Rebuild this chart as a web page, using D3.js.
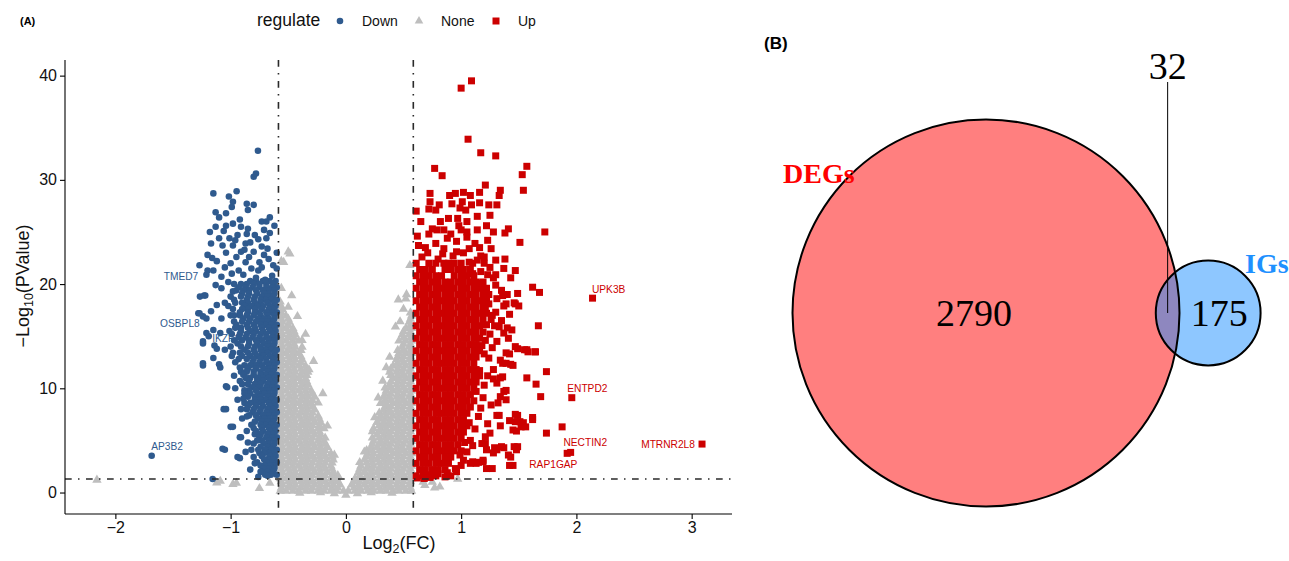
<!DOCTYPE html>
<html>
<head>
<meta charset="utf-8">
<script src="https://cdn.jsdelivr.net/npm/d3@7"></script>
<style>
  body { margin: 0; background: #fff; }
  svg { display: block; font-family: "Liberation Sans", Arial, sans-serif; }
</style>
</head>
<body>
<svg id="fig" width="1289" height="561"></svg>
<script>
// ---- panel A: volcano plot (log2 FC vs -log10 p) ----
const xTicks = [-2, -1, 0, 1, 2, 3]
const yTicks = [0, 10, 20, 30, 40]
const fcCut = 0.585 // log2(1.5)
const pCut = 1.301 // -log10(0.05)
const regulateLevels = ['Down', 'None', 'Up']

// dense parts of each cloud, one row per -log10(p) level: [y, x, x, ...]
const noneRows = [
  [0.15, -.57,-.52,-.46,-.41,-.35,-.30,-.24,-.19,-.13,-.08,-.02,.02,.08,.13,.19,.24,.30,.35,.41,.46,.52,.57],
  [0.45, -.56,-.50,-.45,-.39,-.34,-.29,-.23,-.18,-.12,-.07,.07,.12,.18,.23,.29,.34,.39,.45,.50,.56],
  [0.75, -.55,-.49,-.44,-.38,-.33,-.27,-.22,-.16,-.11,-.05,.05,.11,.16,.22,.27,.33,.38,.44,.49,.55],
  [1.05, -.56,-.50,-.45,-.39,-.34,-.29,-.23,-.18,-.12,-.07,.07,.12,.18,.23,.29,.34,.39,.45,.50,.56],
  [1.35, -.57,-.52,-.46,-.41,-.35,-.30,-.24,-.19,-.13,-.08,.08,.13,.19,.24,.30,.35,.41,.46,.52,.57],
  [1.65, -.56,-.50,-.45,-.39,-.34,-.29,-.23,-.18,-.12,-.07,.12,.18,.23,.29,.34,.39,.45,.50,.56],
  [1.95, -.55,-.49,-.44,-.38,-.33,-.27,-.22,-.16,-.11,.11,.16,.22,.27,.33,.38,.44,.49,.55],
  [2.25, -.56,-.50,-.45,-.39,-.34,-.29,-.23,-.18,-.12,.12,.18,.23,.29,.34,.39,.45,.50,.56],
  [2.55, -.57,-.52,-.46,-.41,-.35,-.30,-.24,-.19,-.13,.13,.19,.24,.30,.35,.41,.46,.52,.57],
  [2.85, -.56,-.50,-.45,-.39,-.34,-.29,-.23,-.18,-.12,.18,.23,.29,.34,.39,.45,.50,.56],
  [3.15, -.55,-.49,-.44,-.38,-.33,-.27,-.22,-.16,-.11,.16,.22,.27,.33,.38,.44,.49,.55],
  [3.45, -.56,-.50,-.45,-.39,-.34,-.29,-.23,-.18,-.12,.18,.23,.29,.34,.39,.45,.50,.56],
  [3.75, -.57,-.52,-.46,-.41,-.35,-.30,-.24,-.19,-.13,.19,.24,.30,.35,.41,.46,.52,.57],
  [4.05, -.56,-.50,-.45,-.39,-.34,-.29,-.23,-.18,.18,.23,.29,.34,.39,.45,.50,.56],
  [4.35, -.55,-.49,-.44,-.38,-.33,-.27,-.22,-.16,.22,.27,.33,.38,.44,.49,.55],
  [4.65, -.56,-.50,-.45,-.39,-.34,-.29,-.23,-.18,.23,.29,.34,.39,.45,.50,.56],
  [4.95, -.57,-.52,-.46,-.41,-.35,-.30,-.24,-.19,.24,.30,.35,.41,.46,.52,.57],
  [5.25, -.56,-.50,-.45,-.39,-.34,-.29,-.23,-.18,.23,.29,.34,.39,.45,.50,.56],
  [5.55, -.55,-.49,-.44,-.38,-.33,-.27,-.22,.27,.33,.38,.44,.49,.55],
  [5.85, -.56,-.50,-.45,-.39,-.34,-.29,-.23,.23,.29,.34,.39,.45,.50,.56],
  [6.15, -.57,-.52,-.46,-.41,-.35,-.30,-.24,-.19,.24,.30,.35,.41,.46,.52,.57],
  [6.45, -.56,-.50,-.45,-.39,-.34,-.29,-.23,.29,.34,.39,.45,.50,.56],
  [6.75, -.55,-.49,-.44,-.38,-.33,-.27,-.22,.27,.33,.38,.44,.49,.55],
  [7.05, -.56,-.50,-.45,-.39,-.34,-.29,-.23,.29,.34,.39,.45,.50,.56],
  [7.35, -.57,-.52,-.46,-.41,-.35,-.30,-.24,.30,.35,.41,.46,.52,.57],
  [7.65, -.56,-.50,-.45,-.39,-.34,-.29,.29,.34,.39,.45,.50,.56],
  [7.95, -.55,-.49,-.44,-.38,-.33,-.27,.33,.38,.44,.49,.55],
  [8.25, -.56,-.50,-.45,-.39,-.34,-.29,.34,.39,.45,.50,.56],
  [8.55, -.57,-.52,-.46,-.41,-.35,-.30,.30,.35,.41,.46,.52,.57],
  [8.85, -.56,-.50,-.45,-.39,-.34,-.29,.34,.39,.45,.50,.56],
  [9.15, -.55,-.49,-.44,-.38,-.33,-.27,.33,.38,.44,.49,.55],
  [9.45, -.56,-.50,-.45,-.39,-.34,-.29,.34,.39,.45,.50,.56],
  [9.75, -.57,-.52,-.46,-.41,-.35,-.30,.35,.41,.46,.52,.57],
  [10.05, -.56,-.50,-.45,-.39,-.34,.34,.39,.45,.50,.56],
  [10.35, -.55,-.49,-.44,-.38,-.33,.38,.44,.49,.55],
  [10.65, -.56,-.50,-.45,-.39,-.34,.39,.45,.50,.56],
  [10.95, -.57,-.52,-.46,-.41,-.35,.41,.46,.52,.57],
  [11.25, -.56,-.50,-.45,-.39,-.34,.39,.45,.50,.56],
  [11.55, -.55,-.49,-.44,-.38,-.33,.38,.44,.49,.55],
  [11.85, -.56,-.50,-.45,-.39,-.34,.39,.45,.50,.56],
  [12.15, -.57,-.52,-.46,-.41,-.35,.41,.46,.52,.57],
  [12.45, -.56,-.50,-.45,-.39,.45,.50,.56],
  [12.75, -.55,-.49,-.44,-.38,.44,.49,.55],
  [13.05, -.56,-.50,-.45,-.39,.45,.50,.56],
  [13.35, -.57,-.52,-.46,-.41,.46,.52,.57],
  [13.65, -.56,-.50,-.45,-.39,.45,.50,.56],
  [13.95, -.55,-.49,-.44,-.38,.49,.55],
  [14.25, -.56,-.50,-.45,.50,.56],
  [14.55, -.57,-.52,-.46,-.41,.46,.52,.57],
  [14.85, -.56,-.50,-.45,.50,.56],
  [15.15, -.55,-.49,-.44,.49,.55],
  [15.45, -.56,-.50,-.45,.50,.56],
  [15.75, -.57,-.52,-.46,.52,.57],
  [16.05, -.56,-.50,.56],
  [16.35, -.55,-.49,.55],
  [16.65, -.56,-.50,.56],
  [16.95, -.57,-.52,.57],
  [17.25, -.56,.56],
  [17.55, -.55],
  [17.85, -.56],
  [18.3, -.57]
]
const noneExtra = [
  [-0.486,22.9],[-0.54,22.1],[-0.50,23.1],[-0.56,22.2],[-0.47,18.9],[-0.56,19.6],[-0.50,17.8],[-0.42,16.9],
  [-0.35,15.2],[-0.28,12.6],[-0.20,9.5],[-0.16,6.4],[-0.10,3.6],[-0.38,14.6],[-0.32,11.8],[-0.24,8.6],
  [0.526,19.0],[0.455,18.5],[0.43,15.9],[0.32,10.7],[0.28,9.1],[0.38,13.0],[0.50,17.6],[0.555,21.8],
  [0.52,18.6],[0.25,7.2],[0.16,3.9],[0.12,2.9],[0.35,12.0],[0.47,16.4],
  [-2.16,1.2],[-1.09,1.1],[-0.98,0.8],[-0.95,0.9],[-1.12,0.94],[-0.66,0.9],[-0.75,0.4],
  [0.685,0.7],[0.77,0.45],[0.815,0.55],[0.97,1.3],[0.67,1.0],[0.75,1.0],
  [-0.1,-0.1],[0,-0.25],[0.1,-0.1],[-0.22,0.0],[0.22,0.0],[-0.4,-0.05],[0.4,-0.05]
]

const downRows = [
  [20.3, -.61,-.66,-.72,-.78,-.83],
  [20.0, -.63,-.69,-.75,-.80,-.86,-.91,-.97],
  [19.7, -.60,-.64,-.69,-.75,-.81,-.87,-.93],
  [19.4, -.62,-.67,-.72,-.78,-.84,-.89,-.95],
  [19.1, -.62,-.67,-.71,-.77,-.84,-.90],
  [18.8, -.63,-.68,-.73,-.79,-.85,-.91,-1.0],
  [18.5, -.60,-.65,-.70,-.74,-.80,-.86,-.97],
  [18.2, -.62,-.68,-.74,-.79,-.85,-.90,-.96],
  [17.9, -.61,-.66,-.72,-.77,-.82,-.88,-1.02],
  [17.6, -.63,-.67,-.73,-.79,-.85,-.90,-.98],
  [17.3, -.60,-.64,-.69,-.75,-.79,-.85,-.92],
  [17.0, -.62,-.68,-.74,-.80,-.86,-.92,-1.0],
  [16.7, -.62,-.67,-.71,-.76,-.83,-.89,-1.08],
  [16.4, -.63,-.68,-.73,-.78,-.84,-.90,-.97],
  [16.1, -.60,-.65,-.70,-.74,-.80,-.86,-.95],
  [15.8, -.62,-.67,-.73,-.79,-.85,-.91,-.96],
  [15.5, -.61,-.66,-.72,-.78,-.83,-.91,-1.01],
  [15.2, -.63,-.69,-.74,-.80,-.86,-.92,-.99],
  [14.9, -.60,-.64,-.69,-.75,-.81,-.87],
  [14.6, -.62,-.67,-.73,-.78,-.84,-.90,-.97],
  [14.3, -.62,-.67,-.71,-.77,-.84,-.94],
  [14.0, -.63,-.68,-.74,-.79,-.85,-.91],
  [13.7, -.60,-.65,-.70,-.74,-.80,-.88,-1.05],
  [13.4, -.62,-.68,-.73,-.79,-.85,-.92,-.98],
  [13.1, -.61,-.66,-.72,-.77,-.83,-.90],
  [12.8, -.63,-.69,-.74,-.80,-.86,-.93],
  [12.5, -.60,-.64,-.69,-.75,-.81,-.96],
  [12.2, -.62,-.67,-.73,-.78,-.83,-.88],
  [11.9, -.62,-.67,-.71,-.78,-.85],
  [11.6, -.63,-.68,-.74,-.80,-.86,-.91],
  [11.3, -.60,-.65,-.70,-.74,-.80,-.89],
  [11.0, -.62,-.67,-.72,-.77,-.83,-.87],
  [10.7, -.61,-.66,-.72,-.77,-.84,-.92],
  [10.4, -.63,-.68,-.74,-.79,-.85,-.90],
  [10.1, -.60,-.64,-.69,-.75,-.81],
  [9.8, -.62,-.67,-.72,-.78,-.84,-.88],
  [9.5, -.62,-.67,-.71,-.76,-.83,-.88],
  [9.2, -.63,-.68,-.74,-.79,-.85],
  [8.9, -.60,-.65,-.70,-.74,-.79,-.94],
  [8.6, -.62,-.67,-.73,-.78,-.83,-.88],
  [8.3, -.61,-.66,-.72,-.78,-.85],
  [8.0, -.63,-.68,-.74,-.80,-.86],
  [7.7, -.60,-.64,-.69,-.75,-.81],
  [7.4, -.62,-.67,-.72,-.78,-.84],
  [7.1, -.62,-.67,-.71,-.76,-.90],
  [6.8, -.63,-.68,-.73,-.79],
  [6.5, -.60,-.65,-.70,-.74,-.82],
  [6.2, -.62,-.67,-.73,-.80],
  [5.9, -.61,-.66,-.72,-.78,-.86],
  [5.6, -.63,-.68,-.74,-.79],
  [5.3, -.60,-.64,-.69,-.75],
  [5.0, -.62,-.67,-.73,-.77],
  [4.7, -.62,-.67,-.71,-.80],
  [4.4, -.63,-.68,-.74],
  [4.1, -.60,-.65,-.70,-.76],
  [3.8, -.62,-.67,-.71,-.75],
  [3.5, -.61,-.66,-.73],
  [3.2, -.63,-.68,-.71],
  [2.9, -.60,-.64,-.69,-.77],
  [2.6, -.62,-.66,-.71,-.74],
  [2.3, -.62,-.67,-.72],
  [2.0, -.63,-.68,-.73],
  [1.7, -.60,-.65,-.70]
]
const downExtra = [
  [-0.763,32.8],[-0.80,30.3],[-0.78,30.6],
  [-1.15,28.7],[-0.948,28.9],[-1.015,28.4],[-0.98,27.9],[-0.99,27.4],[-0.86,27.7],[-0.80,27.6],[-0.85,27.1],
  [-1.13,26.9],[-1.10,26.4],[-1.04,26.8],[-0.66,26.4],[-0.73,26.0],[-0.69,26.0],
  [-1.18,25.0],[-1.13,25.5],[-1.04,25.6],[-0.98,25.8],[-0.91,25.5],[-0.85,25.3],[-0.86,24.8],[-0.79,24.7],
  [-0.69,24.4],[-1.10,24.4],[-1.01,24.4],[-0.94,24.7],
  [-1.17,23.9],[-1.07,23.7],[-0.98,23.7],[-0.87,23.9],[-0.73,23.6],[-0.68,23.4],[-1.20,22.8],[-1.16,22.5],
  [-1.04,23.0],[-0.91,23.1],[-0.80,23.1],[-0.71,22.8],
  [-1.27,21.8],[-1.15,21.3],[-1.08,20.7],[-1.00,22.0],[-0.87,22.1],[-0.75,22.1],[-0.63,21.8],[-1.20,21.3],
  [-0.76,21.3],[-0.93,21.3],[-1.21,20.9],
  [-0.96,24.2],[-0.83,24.0],[-0.76,24.3],[-0.66,24.9],[-0.62,25.6],[-0.71,25.2],[-0.92,26.2],[-1.06,25.1],
  [-0.88,23.3],[-0.95,22.6],[-1.12,22.2],[-0.84,22.6],[-0.67,22.4],[-0.60,23.0],[-0.73,21.6],[-0.82,21.5],
  [-0.99,21.0],[-1.05,21.6],[-0.89,20.9],[-0.64,20.8],[-0.70,20.4],[-0.78,20.6],[-0.60,21.5],
  [-1.266,18.8],[-1.22,18.9],[-1.28,17.2],[-1.24,16.9],[-1.17,17.4],[-1.21,15.3],[-1.24,14.5],[-1.14,14.1],
  [-1.24,12.4],[-1.10,12.3],[-1.04,10.2],[-1.06,8.0],[-0.98,6.3],[-1.07,4.2],[-0.94,3.4],[-0.92,5.3],
  [-1.156,1.3],[-0.79,2.8],[-0.74,2.0],[-1.685,3.53],
  [-1.24,14.3],[-1.24,12.2],[-1.09,12.0],[-1.03,10.1],[-0.96,10.0],[-1.04,8.0],[-1.0,6.3],[-0.91,5.3],
  [-1.05,4.1],[-0.92,3.3],[-0.87,3.9],[-1.15,12.9],[-1.12,13.8],[-1.15,15.6],[-1.09,15.3],[-1.19,15.0],
  [-1.27,17.2],[-1.21,16.7],[-1.23,18.9],
  [-0.98,19.3],[-1.05,18.2],[-0.97,17.0],[-1.12,18.0],[-0.93,14.9],[-1.0,14.0],[-0.99,13.1],[-0.92,12.0],
  [-0.97,11.2],[-0.89,9.0],[-0.91,8.0],[-0.86,7.3],[-0.85,4.8],[-0.82,4.1],[-0.80,3.4],[-0.83,2.2],
  [-0.68,1.6],[-0.76,1.5],[-1.08,19.6],[-1.02,20.2],[-1.13,19.9]
]

const upRows = [
  [22.0, .61,.72,.78,.89,.94,1.0],
  [21.4, .64,.69,.75,.86,.91,.97,1.02,1.08],
  [20.8, .61,.67,.72,.78,.83,.94,1.0,1.05,1.11],
  [20.2, .64,.69,.75,.8,.86,.91,.97,1.02,1.08,1.13,1.19],
  [19.6, .61,.67,.72,.78,.83,.89,.94,1.0,1.05,1.11,1.16,1.22],
  [19.0, .64,.69,.75,.8,.86,.91,.97,1.02,1.08,1.13,1.19,1.24],
  [18.4, .61,.67,.72,.78,.83,.89,.94,1.0,1.05,1.11,1.16,1.22],
  [17.8, .64,.69,.75,.8,.86,.91,.97,1.02,1.08,1.13,1.19],
  [17.2, .61,.67,.72,.78,.83,.89,.94,1.0,1.05,1.11,1.16,1.22],
  [16.6, .64,.69,.75,.8,.86,.91,.97,1.02,1.08,1.13,1.19],
  [16.0, .61,.67,.72,.78,.83,.89,.94,1.0,1.05,1.11,1.16],
  [15.4, .64,.69,.75,.8,.86,.91,.97,1.02,1.08,1.13,1.19],
  [14.8, .61,.67,.72,.78,.83,.89,.94,1.0,1.05,1.11,1.16],
  [14.2, .64,.69,.75,.8,.86,.91,.97,1.02,1.08,1.13],
  [13.6, .61,.67,.72,.78,.83,.89,.94,1.0,1.05,1.11,1.16],
  [13.0, .64,.69,.75,.8,.86,.91,.97,1.02,1.08,1.13],
  [12.4, .61,.67,.72,.78,.83,.89,.94,1.0,1.05,1.11],
  [11.8, .64,.69,.75,.8,.86,.91,.97,1.02,1.08,1.13],
  [11.2, .61,.67,.72,.78,.83,.89,.94,1.0,1.05,1.11,1.16],
  [10.6, .64,.69,.75,.8,.86,.91,.97,1.02,1.08,1.13],
  [10.0, .61,.67,.72,.78,.83,.89,.94,1.0,1.05,1.11],
  [9.4, .64,.69,.75,.8,.86,.91,.97,1.02,1.08],
  [8.8, .61,.67,.72,.78,.83,.89,.94,1.0,1.05,1.11],
  [8.2, .64,.69,.75,.8,.86,.91,.97,1.02,1.08],
  [7.6, .61,.67,.72,.78,.83,.89,.94,1.0,1.05],
  [7.0, .64,.69,.75,.8,.86,.91,.97,1.02],
  [6.4, .61,.67,.72,.78,.83,.89,.94,1.0,1.05],
  [5.8, .64,.69,.75,.8,.86,.91,.97,1.02],
  [5.2, .61,.67,.72,.78,.83,.89,.94,1.0],
  [4.6, .64,.69,.75,.8,.86,.91,.97],
  [4.0, .61,.67,.72,.78,.83,.89,.94,1.0],
  [3.4, .64,.69,.75,.8,.86,.91],
  [2.8, .61,.67,.72,.78,.83,.89],
  [2.2, .64,.69,.75,.8,.86],
  [1.6, .61,.67,.72,.78]
]
const upExtra = [
  [1.09,39.5],[1.0,38.8],[1.06,33.9],[1.17,32.6],[1.30,32.3],[0.77,31.1],[0.835,30.4],[1.57,31.3],[1.53,30.5],[1.54,29.0],
  [0.73,28.7],[0.90,28.5],[0.95,28.7],[1.02,28.8],[1.08,28.5],[1.16,28.8],[1.21,29.5],[1.34,29.0],[1.33,28.5],
  [0.73,27.9],[0.81,27.6],[0.92,27.7],[1.01,27.9],[1.16,27.8],[1.24,27.6],[1.31,27.6],[0.72,27.2],[0.78,27.1],
  [0.99,27.3],[1.04,27.1],[1.09,27.6],[0.89,26.3],[0.65,26.0],[0.97,26.3],[1.14,26.5],[0.75,25.3],[0.79,25.2],
  [0.85,25.2],[0.91,24.8],[1.0,25.2],[1.05,25.0],[1.14,25.2],[1.22,25.6],[1.41,25.3],[1.38,24.9],[1.726,25.0],
  [1.51,24.0],[0.63,23.7],[0.69,23.5],[0.78,23.9],[0.85,23.4],[0.96,24.1],[1.05,24.5],[1.07,23.4],[1.16,23.5],
  [1.23,24.2],[1.26,23.4],[1.17,22.7],[0.96,23.1],[0.80,22.4],[0.85,22.0],[1.07,22.1],[1.14,22.3],[1.2,22.0],
  [1.3,22.3],[1.38,22.4],[1.37,21.5],[1.47,21.3],[1.43,20.6],[1.1,21.0],[1.23,20.9],[1.3,20.9],
  [0.66,22.6],[0.71,23.0],[0.84,22.9],[0.93,22.7],[1.02,23.0],[1.12,23.9],[0.62,24.6],[0.88,24.4],[0.98,25.6],
  [0.72,24.8],[0.82,26.0],[1.05,26.0],[1.25,26.6],[0.61,27.0],[1.28,25.0],
  [1.62,19.7],[1.68,19.2],[2.14,18.65],[1.40,19.0],[1.47,18.1],[1.39,18.1],[1.36,18.9],[1.30,17.3],[1.40,15.8],
  [1.55,13.7],[1.58,13.5],[1.645,13.5],[1.67,16.0],[1.47,14.0],[1.39,13.4],[1.36,12.4],[1.43,12.3],[1.74,11.6],
  [1.57,11.0],[1.65,10.4],[1.34,11.0],[1.28,10.9],[1.37,9.7],[1.69,9.2],[1.39,8.9],[1.32,8.6],[1.47,7.5],
  [1.62,7.2],[1.42,6.9],[1.51,6.8],[1.52,6.3],[1.45,6.0],[1.74,5.7],[1.33,7.4],[1.23,6.6],[1.21,4.7],[1.29,4.3],
  [1.35,4.4],[1.46,4.4],[1.41,3.6],[1.42,2.6],[1.22,2.3],[1.15,2.9],[1.08,2.8],[1.02,3.1],[0.96,2.0],[0.80,1.8],
  [0.73,1.7],[1.49,19.1],[1.46,18.2],[1.5,17.9],[1.96,9.1],[1.49,7.4],[1.47,6.8],[1.54,6.7],[1.62,7.0],[1.56,6.3],
  [1.876,6.3],[1.48,5.9],[1.49,4.4],[1.48,4.1],[1.37,4.3],[1.31,4.1],[1.43,3.4],[1.45,2.6],[1.27,2.3],[1.19,2.95],
  [1.10,2.95],[1.92,3.76],[1.95,3.85],[3.09,4.65],
  [1.22,19.1],[1.31,18.6],[1.37,17.9],[1.42,17.1],[1.35,16.5],[1.29,16.0],[1.44,15.6],[1.37,15.3],[1.41,14.8],
  [1.31,14.5],[1.49,13.8],[1.57,13.7],[1.64,13.5],[1.42,13.3],[1.34,12.7],[1.28,11.8],[1.39,12.4],[1.45,12.2],
  [1.36,11.1],[1.31,10.5],[1.39,9.8],[1.34,9.2],[1.26,8.4],[1.31,7.4],[1.34,6.4],[1.25,5.7],[1.21,5.35],[1.18,4.7],
  [1.22,4.1],[1.28,3.8],[1.13,2.8],[1.19,3.1],
  [1.2,10.3],[1.24,12.9],[1.18,14.1],[1.25,15.2],[1.27,17.0],[1.3,19.9],[1.22,16.1],[1.19,9.1],[1.15,7.3],[1.12,6.1],
  [1.08,5.0],[1.05,3.9],[1.0,2.6],[0.95,2.3],[0.88,1.9],[1.16,11.7],[1.27,13.9],[1.33,15.9],[1.24,18.1],[1.35,19.4],
  [1.28,20.6],[1.17,21.2],[1.1,22.0],[1.2,22.6],
  [0.62,1.4],[0.68,1.35],[0.73,1.45],[0.86,1.5],[0.91,1.6],
  [1.21,14.6],[1.23,11.2],[1.17,8.1],[1.13,9.7],[1.2,13.3],[1.26,16.6],[1.21,17.6],[1.18,20.1],[1.25,21.6],
  [1.07,6.7],[1.1,4.5],[0.99,3.6],[1.03,4.8]
]

// labelled genes: text anchor in data units (repelled position)
const geneNames = ['TMED7', 'OSBPL8', 'IKZF1', 'AP3B2', 'UPK3B', 'ENTPD2', 'NECTIN2', 'MTRNR2L8', 'RAP1GAP']
const geneRegulate = ['Down', 'Down', 'Down', 'Down', 'Up', 'Up', 'Up', 'Up', 'Up']
const geneLabelX = [-1.431, -1.44, -1.04, -1.552, 2.28, 2.095, 2.077, 2.795, 1.80]
const geneLabelY = [20.37, 15.87, 14.43, 4.12, 19.13, 9.64, 4.46, 4.27, 2.35]

// ---- panel B: venn counts ----
const vennSets = ['DEGs', 'IGs']
const vennOnly = [2790, 175]
const vennBoth = 32

const colors = { Down: '#2F5A8E', None: '#BEBEBE', Up: '#CC0000' }

const svg = d3.select('#fig')

const rowsToPoints = rows => rows.flatMap(r => r.slice(1).map(v => [v, r[0]]))
const nonePts = rowsToPoints(noneRows).concat(noneExtra)
const downPts = rowsToPoints(downRows).concat(downExtra)
const upPts = rowsToPoints(upRows).concat(upExtra)

// scales
const x = d3.scaleLinear().domain([-2.437, 3.35]).range([65, 732])
const y = d3.scaleLinear().domain([-2.06, 41.5]).range([514, 60])

const plotA = svg.append('g')

// IKZF1 label sits under the blue cloud in the original
const labelG = plotA.append('g').attr('font-size', 10.2).attr('text-anchor', 'middle')
function drawLabel(i) {
  labelG.append('text')
    .attr('x', x(geneLabelX[i])).attr('y', y(geneLabelY[i]))
    .attr('fill', colors[geneRegulate[i]])
    .text(geneNames[i])
}
drawLabel(2)

function drawPoints(pts, shape, size, color) {
  plotA.append('g').selectAll('path').data(pts).join('path')
    .attr('transform', d => `translate(${x(d[0])},${y(d[1])})`)
    .attr('d', d3.symbol(shape, size))
    .attr('fill', color)
}
drawPoints(nonePts, d3.symbolTriangle, 38, colors.None)
drawPoints(downPts, d3.symbolCircle, 34, colors.Down)
drawPoints(upPts, d3.symbolSquare, 49, colors.Up)

// threshold lines on top of the points
const dash = '6.7,6.3,1.5,6.5'
const lines = plotA.append('g').attr('stroke', '#2a2a2a').attr('stroke-width', 1.6).attr('stroke-dasharray', dash)
;[-fcCut, fcCut].forEach(v => {
  lines.append('line').attr('x1', x(v)).attr('x2', x(v)).attr('y1', 60).attr('y2', 514)
})
lines.append('line').attr('x1', 65).attr('x2', 732).attr('y1', y(pCut)).attr('y2', y(pCut))

geneNames.forEach((g, i) => { if (i !== 2) drawLabel(i) })

// axes
const xAxis = plotA.append('g').attr('transform', 'translate(0,514)')
  .call(d3.axisBottom(x).tickValues(xTicks).tickFormat(d3.format('d')).tickSize(5).tickSizeOuter(0).tickPadding(3))
const yAxis = plotA.append('g').attr('transform', 'translate(65,0)')
  .call(d3.axisLeft(y).tickValues(yTicks).tickFormat(d3.format('d')).tickSize(5).tickSizeOuter(0).tickPadding(3))
;[xAxis, yAxis].forEach(a => {
  a.attr('font-family', null).attr('font-size', 16)
  a.select('.domain').attr('stroke', '#000').attr('stroke-width', 1.1)
  a.selectAll('.tick line').attr('stroke', '#000').attr('stroke-width', 1.1)
  a.selectAll('.tick text').attr('fill', '#111')
})
yAxis.select('.domain').attr('d', 'M0,60V514')
xAxis.select('.domain').attr('d', 'M65,0H732')

// axis titles
const xt = plotA.append('text').attr('x', 399).attr('y', 549).attr('text-anchor', 'middle')
  .attr('font-size', 18).attr('fill', '#111')
xt.append('tspan').text('Log')
xt.append('tspan').attr('font-size', 12.5).attr('dy', 4).text('2')
xt.append('tspan').attr('dy', -4).text('(FC)')

const yt = plotA.append('text').attr('transform', 'translate(29,286) rotate(-90)')
  .attr('text-anchor', 'middle').attr('font-size', 18).attr('fill', '#111')
yt.append('tspan').text('\u2212Log')
yt.append('tspan').attr('font-size', 12.5).attr('dy', 4).text('10')
yt.append('tspan').attr('dy', -4).text('(PValue)')

// legend
const legend = svg.append('g')
legend.append('text').attr('x', 257).attr('y', 26).attr('font-size', 17.5).attr('fill', '#111').text('regulate')
const legendShapes = { Down: d3.symbolCircle, None: d3.symbolTriangle, Up: d3.symbolSquare }
const legendSizes = { Down: 34, None: 32, Up: 49 }
const legendKeyX = [340, 419, 496]
regulateLevels.forEach((lv, i) => {
  legend.append('path').attr('transform', `translate(${legendKeyX[i]},21)`)
    .attr('d', d3.symbol(legendShapes[lv], legendSizes[lv])).attr('fill', colors[lv])
  legend.append('text').attr('x', legendKeyX[i] + 22).attr('y', 26).attr('font-size', 14)
    .attr('fill', '#111').text(lv)
})

svg.append('text').attr('x', 20).attr('y', 25).attr('font-size', 11).attr('font-weight', 600).text('(A)')

// ---- panel B ----
svg.append('text').attr('x', 764).attr('y', 49).attr('font-size', 17).attr('font-weight', 600).text('(B)')

const totals = [vennOnly[0] + vennBoth, vennOnly[1] + vennBoth]
const rScale = d3.scaleSqrt().domain([0, totals[0]]).range([0, 193.5])
const r1 = rScale(totals[0]), r2 = rScale(totals[1])

function lensArea(a, b, d) {
  if (d >= a + b) return 0
  if (d <= Math.abs(a - b)) return Math.PI * Math.min(a, b) ** 2
  const p1 = a * a * Math.acos((d * d + a * a - b * b) / (2 * d * a))
  const p2 = b * b * Math.acos((d * d + b * b - a * a) / (2 * d * b))
  const k = 0.5 * Math.sqrt((-d + a + b) * (d + a - b) * (d - a + b) * (d + a + b))
  return p1 + p2 - k
}
// find centre distance so the overlap area matches the shared count
const target = Math.PI * r1 * r1 * vennBoth / totals[0]
let lo = Math.abs(r1 - r2), hi = r1 + r2
for (let i = 0; i < 60; i++) {
  const mid = (lo + hi) / 2
  if (lensArea(r1, r2, mid) > target) lo = mid
  else hi = mid
}
const dist = (lo + hi) / 2
const c1 = { x: 986, y: 313 }
const c2 = { x: c1.x + dist, y: 313 }

const venn = svg.append('g')
venn.append('circle').attr('cx', c1.x).attr('cy', c1.y).attr('r', r1).attr('fill', '#FF0000').attr('fill-opacity', 0.5)
venn.append('circle').attr('cx', c2.x).attr('cy', c2.y).attr('r', r2).attr('fill', '#1E90FF').attr('fill-opacity', 0.5)
venn.append('circle').attr('cx', c1.x).attr('cy', c1.y).attr('r', r1).attr('fill', 'none').attr('stroke', '#000').attr('stroke-width', 2)
venn.append('circle').attr('cx', c2.x).attr('cy', c2.y).attr('r', r2).attr('fill', 'none').attr('stroke', '#000').attr('stroke-width', 2)

const serif = '"Liberation Serif", "Times New Roman", serif'
const lensX = ((c2.x - r2) + (c1.x + r1)) / 2
venn.append('line').attr('x1', lensX).attr('x2', lensX).attr('y1', 82).attr('y2', c1.y)
  .attr('stroke', '#000').attr('stroke-width', 1)
const nums = venn.append('g').attr('font-family', serif).attr('font-size', 38).attr('text-anchor', 'middle').attr('fill', '#000')
nums.append('text').attr('x', c1.x - 12).attr('y', 326).text(vennOnly[0])
nums.append('text').attr('x', c2.x + 11).attr('y', 326).text(vennOnly[1])
nums.append('text').attr('x', lensX).attr('y', 79).text(vennBoth)

venn.append('text').attr('x', 783).attr('y', 183).attr('font-family', serif).attr('font-weight', 'bold')
  .attr('font-size', 28).attr('fill', '#FF0000').text(vennSets[0])
venn.append('text').attr('x', 1245).attr('y', 273).attr('font-family', serif).attr('font-weight', 'bold')
  .attr('font-size', 28).attr('fill', '#1E90FF').text(vennSets[1])
</script>
</body>
</html>
